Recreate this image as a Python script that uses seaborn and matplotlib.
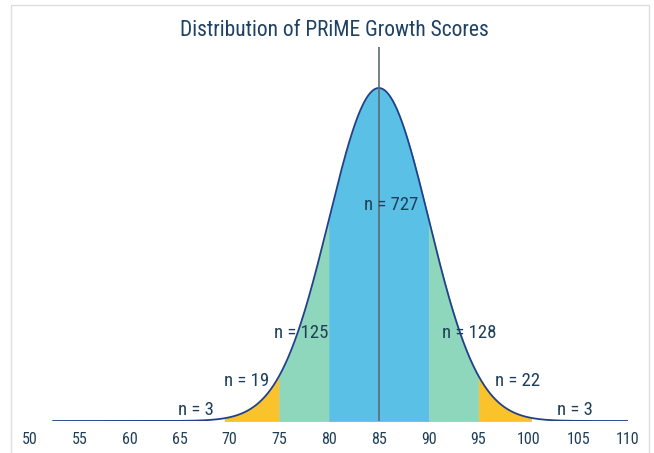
import numpy as np
import pandas as pd
import matplotlib
from matplotlib import pyplot as plt
from matplotlib.patches import Rectangle
import seaborn as sns

# distribution of scores (normal curve as drawn in the chart)
MEAN = 85
SD = 5
CURVE_START = 52.3
CURVE_END = 110

# shaded bands and their counts
band_edges = [69.5, 75, 80, 90, 95, 100.3]
band_colors = ["#FAC22B", "#8ED6BC", "#5BC0E6", "#8ED6BC", "#FAC22B"]
counts = [3, 19, 125, 727, 128, 22, 3]
# where each count label sits (score, fraction of peak height)
label_x = [66.6, 71.7, 77.2, 86.2, 94.1, 98.9, 104.7]
label_h = [0.033, 0.12, 0.264, 0.649, 0.264, 0.12, 0.033]

x_ticks = list(range(50, 115, 5))
TITLE = "Distribution of PRiME Growth Scores"

TEXT_COLOR = "#1F3F58"
LINE_COLOR = "#22418A"


def normal_pdf(x):
    return np.exp(-0.5 * ((x - MEAN) / SD) ** 2) / (SD * np.sqrt(2 * np.pi))


def main():
    sns.set_theme(style="white")
    plt.rcParams["font.family"] = ["Roboto Condensed", "Liberation Sans Narrow", "Roboto", "DejaVu Sans"]

    xs = np.linspace(CURVE_START, CURVE_END, 1200)
    curve = pd.DataFrame({"score": xs, "density": normal_pdf(xs)})
    peak = normal_pdf(MEAN)

    fig = plt.figure(figsize=(6.54, 4.53), dpi=100)
    ax = fig.add_axes([30 / 654, 1 - 421 / 453, (628 - 30) / 654, (421 - 47) / 453])

    # coloured bands under the curve
    for lo, hi, col in zip(band_edges[:-1], band_edges[1:], band_colors):
        seg = curve[(curve["score"] >= lo) & (curve["score"] <= hi)]
        ax.fill_between(seg["score"], 0, seg["density"], facecolor=col,
                        edgecolor=col, linewidth=0.6)

    sns.lineplot(data=curve, x="score", y="density", color=LINE_COLOR,
                 linewidth=1.3, ax=ax)
    ax.axvline(MEAN, color="#5F6B73", linewidth=1.2)

    for n, lx, lh in zip(counts, label_x, label_h):
        ax.text(lx, lh * peak, f"n = {n}", ha="center", va="center",
                fontsize=13.5, color=TEXT_COLOR)

    ax.set_xlim(50, 110)
    ax.set_ylim(0, peak * (421 - 47) / 333)
    ax.set_xticks(x_ticks)
    ax.set_yticks([])
    ax.set_xlabel("")
    ax.set_ylabel("")
    ax.tick_params(axis="x", length=0, pad=8, labelsize=11.5, labelcolor=TEXT_COLOR)
    for s in ax.spines.values():
        s.set_visible(False)

    fig.text(334 / 654, 1 - 31 / 453, TITLE, ha="center", va="center",
             fontsize=15.5, color="#1E4263")

    # light frame around the whole picture
    fig.patches.append(Rectangle((11 / 654, -0.02), (649 - 11) / 654, 1 - 5 / 453 + 0.02,
                                 transform=fig.transFigure, fill=False,
                                 edgecolor="#DDDDDD", linewidth=1.0))

    fig.savefig("out.png", dpi=100)


if __name__ == "__main__":
    main()
